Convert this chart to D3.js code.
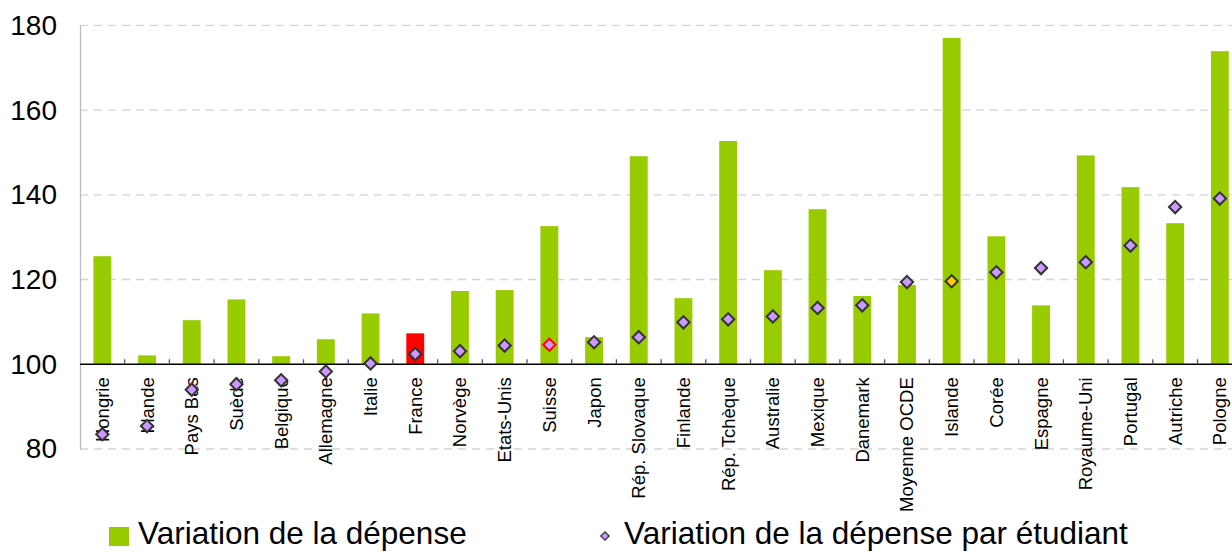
<!DOCTYPE html>
<html>
<head>
<meta charset="utf-8">
<script src="https://cdn.jsdelivr.net/npm/d3@7"></script>
<style>
  body { margin: 0; background: #fff; }
  svg { display: block; font-family: "Liberation Sans", Arial, sans-serif; }
</style>
</head>
<body>
<div id="chart"></div>
<script>
var width = 1232,
    height = 552;

// data
var categories = ["Hongrie", "Irlande", "Pays Bas", "Suède", "Belgique", "Allemagne", "Italie",
  "France", "Norvège", "Etats-Unis", "Suisse", "Japon", "Rép. Slovaque", "Finlande",
  "Rép. Tchèque", "Australie", "Mexique", "Danemark", "Moyenne OCDE", "Islande", "Corée",
  "Espagne", "Royaume-Uni", "Portugal", "Autriche", "Pologne"];
var depense = [125.5, 102.1, 110.4, 115.3, 101.9, 105.9, 112.0, 107.3, 117.3, 117.5, 132.6,
  106.4, 149.1, 115.6, 152.7, 122.2, 136.6, 116.1, 118.7, 177.0, 130.2, 113.9, 149.3,
  141.8, 133.3, 173.9];
var parEtudiant = [83.5, 85.4, 94.0, 95.3, 96.2, 98.3, 100.2, 102.4, 103.1, 104.4, 104.6,
  105.2, 106.4, 109.9, 110.6, 111.3, 113.3, 113.9, 119.4, 119.6, 121.7, 122.7, 124.1,
  128.0, 137.1, 139.1];
var yTicks = [80, 100, 120, 140, 160, 180];

var green = "#99cc00", red = "#ff0000", purple = "#cc99ff", gold = "#ffcc00";

var svg = d3.select('#chart').append('svg')
  .attr('width', width)
  .attr('height', height);

var left = 80, step = 44.7;

// scales
var x = d3.scaleBand().domain(categories)
  .range([left, left + step * categories.length])
  .paddingInner(0.6).paddingOuter(0.3);
var y = d3.scaleLinear().domain([80, 180]).range([449, 25.3]);

// grid lines (dashed)
svg.append('g').selectAll('line').data(yTicks.filter(function(d) { return d != 100; }))
  .enter().append('line')
  .attr('x1', left).attr('x2', width)
  .attr('y1', function(d) { return y(d); })
  .attr('y2', function(d) { return y(d); })
  .attr('stroke', '#d4d4d4')
  .attr('stroke-width', 1.3)
  .attr('stroke-dasharray', '8,6');

// left axis
var axisY = d3.axisLeft(y).tickValues(yTicks).tickSize(0).tickPadding(23);
var gy = svg.append('g').attr('transform', 'translate(' + left + ',0)').call(axisY);
gy.select('.domain').attr('stroke', '#bbbbbb').attr('stroke-width', 1.3);
gy.selectAll('text').attr('font-size', '28px').attr('fill', '#000')
  .attr('font-family', '"Liberation Sans", Arial, sans-serif');

// bars
svg.append('g').selectAll('rect').data(categories).enter().append('rect')
  .attr('x', function(d) { return x(d); })
  .attr('width', x.bandwidth())
  .attr('y', function(d, i) { return y(depense[i]); })
  .attr('height', function(d, i) { return y(100) - y(depense[i]); })
  .attr('fill', function(d) { return d == "France" ? red : green; });

// x axis at 100
var axisX = d3.axisBottom(x).tickSize(0);
var gx = svg.append('g').attr('transform', 'translate(0,' + y(100) + ')').call(axisX);
gx.select('.domain').remove();
gx.append('line').attr('x1', left).attr('x2', width).attr('y1', 0).attr('y2', 0)
  .attr('stroke', '#000').attr('stroke-width', 1.5);
gx.selectAll('.tick text')
  .attr('transform', 'rotate(-90)')
  .attr('x', -13).attr('y', 0).attr('dy', '0.35em')
  .attr('text-anchor', 'end')
  .attr('font-size', '18.5px').attr('fill', '#000')
  .attr('font-family', '"Liberation Sans", Arial, sans-serif');

// category boundary ticks
gx.append('g').selectAll('line').data(d3.range(1, categories.length)).enter().append('line')
  .attr('x1', function(i) { return left + i * step; })
  .attr('x2', function(i) { return left + i * step; })
  .attr('y1', -5).attr('y2', 0)
  .attr('stroke', '#555').attr('stroke-width', 1.3);

// diamond markers
var diamond = d3.symbol().type(d3.symbolSquare).size(76);
svg.append('g').selectAll('path').data(categories).enter().append('path')
  .attr('d', diamond)
  .attr('transform', function(d, i) {
    return 'translate(' + (x(d) + x.bandwidth() / 2) + ',' + y(parEtudiant[i]) + ') rotate(45)';
  })
  .attr('fill', function(d) { return d == "Islande" ? gold : purple; })
  .attr('stroke', function(d) { return d == "Suisse" ? red : '#333'; })
  .attr('stroke-width', 2);

// legend
var legend = svg.append('g');
legend.append('rect').attr('x', 109).attr('y', 527).attr('width', 20).attr('height', 19).attr('fill', green);
legend.append('text').attr('x', 138).attr('y', 544).attr('font-size', '31.5px').text('Variation de la dépense');
legend.append('path').attr('d', d3.symbol().type(d3.symbolSquare).size(34))
  .attr('transform', 'translate(605,536) rotate(45)')
  .attr('fill', purple).attr('stroke', '#333').attr('stroke-width', 1.3);
legend.append('text').attr('x', 624).attr('y', 544).attr('font-size', '31.5px').text('Variation de la dépense par étudiant');
</script>
</body>
</html>
